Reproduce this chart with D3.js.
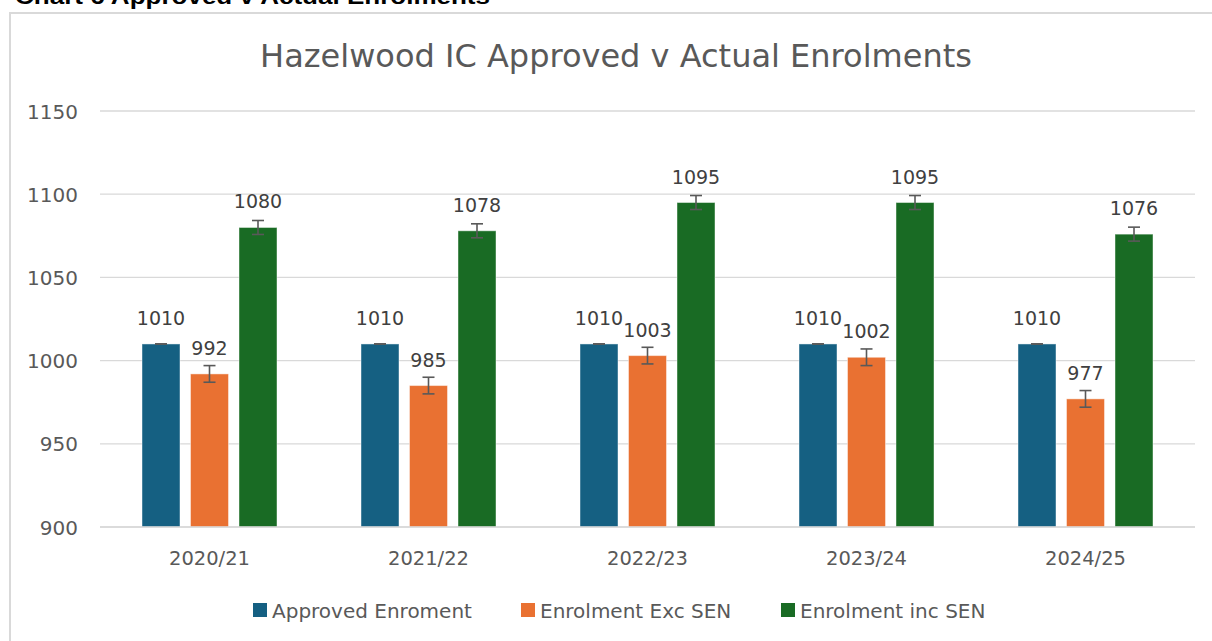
<!DOCTYPE html>
<html><head><meta charset="utf-8">
<script src="https://cdn.jsdelivr.net/npm/d3@7"></script>
<style>body{margin:0;background:#fff;}svg{display:block;}</style>
</head><body>
<svg id="c" width="1212" height="641"></svg>
<script>
const categories = ["2020/21","2021/22","2022/23","2023/24","2024/25"];
const seriesNames = ["Approved Enroment","Enrolment Exc SEN","Enrolment inc SEN"];
const approved = [1010,1010,1010,1010,1010];
const excSEN = [992,985,1003,1002,977];
const incSEN = [1080,1078,1095,1095,1076];
const errorBars = [0,5,4.2];
const yTicks = [900,950,1000,1050,1100,1150];
const colors = ["#156082","#E97132","#196B24"];
const title = "Hazelwood IC Approved v Actual Enrolments";
const header = "Chart 6 Approved v Actual Enrolments";

const series = [approved, excSEN, incSEN];
const svg = d3.select("#c");
const font = "'DejaVu Sans', sans-serif";

svg.append("text").attr("x",15).attr("y",4).attr("font-family","'Liberation Sans', Arial, sans-serif").attr("font-weight","bold")
  .attr("font-size",22).attr("fill","#000").attr("textLength",475).attr("lengthAdjust","spacingAndGlyphs").text(header);
svg.append("rect").attr("x",10).attr("y",13).attr("width",1230).attr("height",700)
  .attr("fill","#fff").attr("stroke","#d9d9d9").attr("stroke-width",2);

svg.append("text").attr("x",616).attr("y",67).attr("text-anchor","middle").attr("font-family",font)
  .attr("font-size",32).attr("fill","#595959").text(title);

const x0 = d3.scaleBand().domain(categories).range([100,1195]).padding(0);
const x1 = d3.scaleBand().domain(d3.range(3)).range([42,177]).paddingInner(0.2165).paddingOuter(0);
const y = d3.scaleLinear().domain([900,1150]).range([527,111]);

svg.append("g").selectAll("line").data(yTicks).join("line")
  .attr("x1",100).attr("x2",1195).attr("y1",d=>y(d)).attr("y2",d=>y(d))
  .attr("stroke","#d9d9d9").attr("stroke-width",1.3);

svg.append("g").selectAll("text").data(yTicks).join("text")
  .attr("x",78).attr("y",d=>y(d)+7.5).attr("text-anchor","end").attr("font-family",font)
  .attr("font-size",20).attr("fill","#595959").text(d=>d);

const groups = svg.append("g").selectAll("g").data(categories).join("g")
  .attr("transform",c=>`translate(${x0(c)},0)`);

groups.each(function(c,ci){
  const g = d3.select(this);
  series.forEach((s,si)=>{
    const v = s[ci];
    const bx = x1(si), bw = x1.bandwidth();
    g.append("rect").attr("x",bx).attr("y",y(v)).attr("width",bw).attr("height",y(900)-y(v))
      .attr("fill",colors[si]).attr("stroke","rgba(255,255,255,0.45)").attr("stroke-width",1);
    const cx = bx + bw/2, e = errorBars[si];
    const eg = g.append("g").attr("stroke","#595959").attr("stroke-width",1.6);
    eg.append("line").attr("x1",cx).attr("x2",cx).attr("y1",y(v+e)).attr("y2",y(v-e));
    eg.append("line").attr("x1",cx-6).attr("x2",cx+6).attr("y1",y(v+e)).attr("y2",y(v+e));
    eg.append("line").attr("x1",cx-6).attr("x2",cx+6).attr("y1",y(v-e)).attr("y2",y(v-e));
    g.append("text").attr("x",cx).attr("y",y(v)-19).attr("text-anchor","middle").attr("font-family",font)
      .attr("font-size",19).attr("fill","#404040").text(v);
  });
  g.append("text").attr("x",x0.bandwidth()/2).attr("y",565).attr("text-anchor","middle").attr("font-family",font)
    .attr("font-size",19.5).attr("fill","#595959").text(c);
});

svg.append("line").attr("x1",100).attr("x2",1195).attr("y1",y(900)).attr("y2",y(900))
  .attr("stroke","#d9d9d9").attr("stroke-width",1.5);

const legX = [253,521,781];
const leg = svg.append("g").selectAll("g").data(seriesNames).join("g")
  .attr("transform",(d,i)=>`translate(${legX[i]},603)`);
leg.append("rect").attr("width",14).attr("height",14).attr("fill",(d,i)=>colors[i]);
leg.append("text").attr("x",19).attr("y",14.5).attr("font-family",font).attr("font-size",20)
  .attr("fill","#595959").text(d=>d);
</script>
</body></html>
